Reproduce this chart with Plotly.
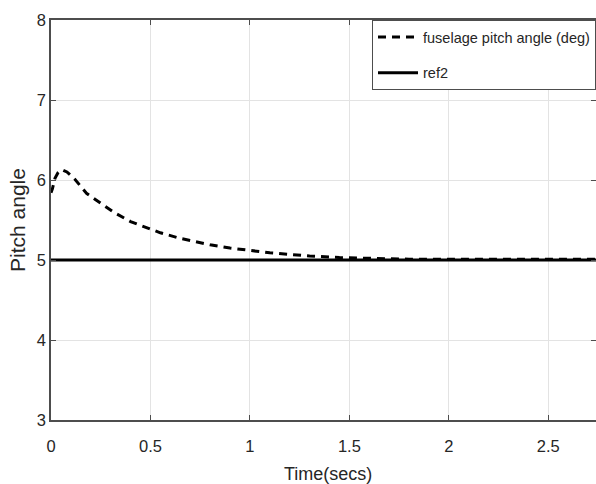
import plotly.graph_objects as go

# Data
t = [0.0, 0.007, 0.02, 0.035, 0.054, 0.08, 0.12, 0.18, 0.255, 0.32, 0.40, 0.47,
     0.55, 0.65, 0.80, 0.90, 1.0, 1.1, 1.2, 1.3, 1.45, 1.6, 1.8, 2.0, 2.2, 2.4, 2.6, 2.8]
pitch = [5.84, 5.89, 6.02, 6.09, 6.13, 6.10, 6.01, 5.83, 5.70, 5.59, 5.48, 5.41,
         5.34, 5.27, 5.19, 5.15, 5.12, 5.09, 5.07, 5.05, 5.03, 5.02, 5.01, 5.01, 5.01, 5.01, 5.01, 5.01]
ref_t = [0.0, 2.8]
ref_v = [5.0, 5.0]

x_ticks = [0, 0.5, 1, 1.5, 2, 2.5]
x_tick_labels = ["0", "0.5", "1", "1.5", "2", "2.5"]
y_ticks = [3, 4, 5, 6, 7, 8]

FONT = "Liberation Sans, Arial, sans-serif"
TXT = "#262626"
AX = "#4d4d4d"

fig = go.Figure()
fig.add_trace(go.Scatter(x=t, y=pitch, mode="lines", name="fuselage pitch angle (deg)",
                         legendgroup="a",
                         line=dict(color="black", width=3, dash="8px,6px")))
fig.add_trace(go.Scatter(x=ref_t, y=ref_v, mode="lines", name="ref2",
                         legendgroup="b",
                         line=dict(color="black", width=3)))

axis_common = dict(showgrid=True, gridcolor="#e3e3e3", gridwidth=1,
                   showline=True, linecolor=AX, linewidth=1.5, mirror="ticks",
                   ticks="inside", ticklen=5, tickcolor=AX, tickwidth=1,
                   zeroline=False, tickfont=dict(family=FONT, size=16.5, color=TXT))

fig.update_layout(
    width=596, height=484,
    margin=dict(l=51, r=0, t=20, b=64, autoexpand=False),
    paper_bgcolor="white", plot_bgcolor="white",
    showlegend=True,
    legend=dict(x=(372 - 51) / 545, y=1, xanchor="left", yanchor="top",
                bgcolor="white", bordercolor=AX, borderwidth=1,
                font=dict(family=FONT, size=14.5, color=TXT),
                traceorder="grouped", tracegroupgap=14, itemwidth=40),
    xaxis=dict(range=[0, 2.74], tickvals=x_ticks, ticktext=x_tick_labels,
               ticklabelstandoff=10, **axis_common),
    yaxis=dict(range=[3, 8], tickvals=y_ticks,
               title=dict(text="Pitch angle", font=dict(family=FONT, size=21, color=TXT), standoff=5),
               **axis_common),
    annotations=[dict(text="Time(secs)", xref="paper", yref="paper",
                      x=(328 - 51) / 545, y=0, yshift=-42, xanchor="center", yanchor="top",
                      showarrow=False, font=dict(family=FONT, size=18, color=TXT))],
)

fig.write_html("out.html")
